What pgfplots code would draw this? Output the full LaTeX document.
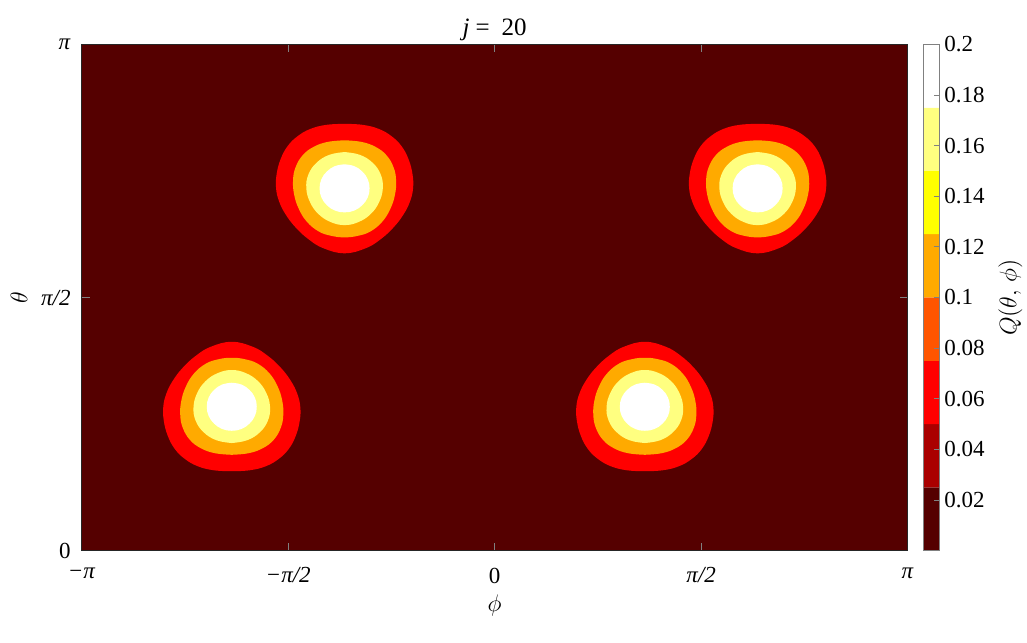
\documentclass[border=0pt]{standalone}
\usepackage{fontspec}
\setmainfont{Liberation Serif}
\usepackage{pgfplots}
\pgfplotsset{compat=1.18}
\definecolor{hA}{RGB}{85,0,0}
\definecolor{hB}{RGB}{170,0,0}
\definecolor{hC}{RGB}{255,0,0}
\definecolor{hD}{RGB}{255,85,0}
\definecolor{hE}{RGB}{255,170,0}
\definecolor{hF}{RGB}{255,255,0}
\definecolor{hG}{RGB}{255,255,128}
\definecolor{hH}{RGB}{255,255,255}
\definecolor{axgray}{RGB}{38,38,38}
\begin{document}
\begin{tikzpicture}
\useasboundingbox (-40.85pt,-45.65pt) rectangle (472.65pt,275.35pt);
\begin{axis}[
  at={(0pt,0pt)}, anchor=south west,
  scale only axis, width=413pt, height=253.2pt,
  xmin=-3.1416, xmax=3.1416, ymin=0, ymax=3.1416,
  axis background/.style={fill=hA},
  axis on top,
  xtick={-3.1416,-1.5708,0,1.5708,3.1416},
  xticklabels={\textit{−π},\textit{−π/2},0,\textit{π/2},\textit{π}},
  ytick={0,1.5708,3.1416},
  yticklabels={0,\textit{π/2},\textit{π}},
  tick align=inside,
  major tick length=4pt,
  tick style={gray, line width=0.4pt},
  axis line style={axgray, line width=0.5pt},
  xlabel={$\phi$}, ylabel={$\theta$},
  title={\textit{j}\hspace{3pt}=\hspace{6pt}20},
  ticklabel style={font=\fontsize{11.5}{13}\selectfont},
  xticklabel style={yshift=-5pt},
  yticklabel style={xshift=-2pt},
  label style={font=\fontsize{12.5}{14}\selectfont},
  xlabel style={yshift=1pt},
  title style={font=\fontsize{12.5}{14}\selectfont, yshift=-8pt},
]
% ---- red (outer) contours
\addplot[fill=hC, draw=none, smooth, tension=0.7] coordinates {
(2.000,2.648)(2.137,2.642)(2.259,2.617)(2.358,2.571)(2.434,2.509)(2.487,2.428)(2.517,2.335)(2.521,2.248)(2.498,2.167)(2.449,2.087)(2.373,2.006)(2.274,1.932)(2.160,1.876)(2.000,1.845)(1.840,1.876)(1.726,1.932)(1.627,2.006)(1.551,2.087)(1.502,2.167)(1.479,2.248)(1.483,2.335)(1.513,2.428)(1.566,2.509)(1.642,2.571)(1.741,2.617)(1.863,2.642)(2.000,2.648)};
\addplot[fill=hC, draw=none, smooth, tension=0.7] coordinates {
(-1.142,2.648)(-1.005,2.642)(-0.883,2.617)(-0.784,2.571)(-0.708,2.509)(-0.655,2.428)(-0.625,2.335)(-0.621,2.248)(-0.644,2.167)(-0.693,2.087)(-0.769,2.006)(-0.868,1.932)(-0.982,1.876)(-1.142,1.845)(-1.302,1.876)(-1.416,1.932)(-1.515,2.006)(-1.591,2.087)(-1.640,2.167)(-1.663,2.248)(-1.659,2.335)(-1.629,2.428)(-1.576,2.509)(-1.500,2.571)(-1.401,2.617)(-1.279,2.642)(-1.142,2.648)};
\addplot[fill=hC, draw=none, smooth, tension=0.7] coordinates {
(1.142,0.493)(1.279,0.499)(1.401,0.524)(1.500,0.570)(1.576,0.632)(1.629,0.713)(1.659,0.806)(1.663,0.893)(1.640,0.974)(1.591,1.054)(1.515,1.135)(1.416,1.209)(1.302,1.265)(1.142,1.296)(0.982,1.265)(0.868,1.209)(0.769,1.135)(0.693,1.054)(0.644,0.974)(0.621,0.893)(0.625,0.806)(0.655,0.713)(0.708,0.632)(0.784,0.570)(0.883,0.524)(1.005,0.499)(1.142,0.493)};
\addplot[fill=hC, draw=none, smooth, tension=0.7] coordinates {
(-2.000,0.493)(-1.863,0.499)(-1.741,0.524)(-1.642,0.570)(-1.566,0.632)(-1.513,0.713)(-1.483,0.806)(-1.479,0.893)(-1.502,0.974)(-1.551,1.054)(-1.627,1.135)(-1.726,1.209)(-1.840,1.265)(-2.000,1.296)(-2.160,1.265)(-2.274,1.209)(-2.373,1.135)(-2.449,1.054)(-2.498,0.974)(-2.521,0.893)(-2.517,0.806)(-2.487,0.713)(-2.434,0.632)(-2.358,0.570)(-2.259,0.524)(-2.137,0.499)(-2.000,0.493)};
% ---- orange contours
\addplot[fill=hE, draw=none, smooth, tension=0.7] coordinates {
(2.000,2.546)(2.129,2.536)(2.236,2.505)(2.319,2.453)(2.373,2.378)(2.392,2.298)(2.384,2.211)(2.350,2.124)(2.289,2.043)(2.198,1.981)(2.099,1.953)(2.000,1.944)(1.901,1.953)(1.802,1.981)(1.711,2.043)(1.650,2.124)(1.616,2.211)(1.608,2.298)(1.627,2.378)(1.681,2.453)(1.764,2.505)(1.871,2.536)(2.000,2.546)};
\addplot[fill=hE, draw=none, smooth, tension=0.7] coordinates {
(-1.142,2.546)(-1.013,2.536)(-0.906,2.505)(-0.823,2.453)(-0.769,2.378)(-0.750,2.298)(-0.758,2.211)(-0.792,2.124)(-0.853,2.043)(-0.944,1.981)(-1.043,1.953)(-1.142,1.944)(-1.241,1.953)(-1.340,1.981)(-1.431,2.043)(-1.492,2.124)(-1.526,2.211)(-1.534,2.298)(-1.515,2.378)(-1.461,2.453)(-1.378,2.505)(-1.271,2.536)(-1.142,2.546)};
\addplot[fill=hE, draw=none, smooth, tension=0.7] coordinates {
(1.142,0.595)(1.271,0.605)(1.378,0.636)(1.461,0.688)(1.515,0.763)(1.534,0.843)(1.526,0.930)(1.492,1.017)(1.431,1.098)(1.340,1.160)(1.241,1.188)(1.142,1.197)(1.043,1.188)(0.944,1.160)(0.853,1.098)(0.792,1.017)(0.758,0.930)(0.750,0.843)(0.769,0.763)(0.823,0.688)(0.906,0.636)(1.013,0.605)(1.142,0.595)};
\addplot[fill=hE, draw=none, smooth, tension=0.7] coordinates {
(-2.000,0.595)(-1.871,0.605)(-1.764,0.636)(-1.681,0.688)(-1.627,0.763)(-1.608,0.843)(-1.616,0.930)(-1.650,1.017)(-1.711,1.098)(-1.802,1.160)(-1.901,1.188)(-2.000,1.197)(-2.099,1.188)(-2.198,1.160)(-2.289,1.098)(-2.350,1.017)(-2.384,0.930)(-2.392,0.843)(-2.373,0.763)(-2.319,0.688)(-2.236,0.636)(-2.129,0.605)(-2.000,0.595)};
% ---- light yellow contours
\addplot[fill=hG, draw=none, smooth, tension=0.7] coordinates {
(2.000,2.473)(2.116,2.456)(2.213,2.407)(2.275,2.334)(2.291,2.248)(2.262,2.161)(2.198,2.088)(2.106,2.039)(2.000,2.020)(1.894,2.039)(1.802,2.088)(1.738,2.161)(1.709,2.248)(1.725,2.334)(1.787,2.407)(1.884,2.456)(2.000,2.473)};
\addplot[fill=hG, draw=none, smooth, tension=0.7] coordinates {
(-1.142,2.473)(-1.026,2.456)(-0.929,2.407)(-0.867,2.334)(-0.851,2.248)(-0.880,2.161)(-0.944,2.088)(-1.036,2.039)(-1.142,2.020)(-1.248,2.039)(-1.340,2.088)(-1.404,2.161)(-1.433,2.248)(-1.417,2.334)(-1.355,2.407)(-1.258,2.456)(-1.142,2.473)};
\addplot[fill=hG, draw=none, smooth, tension=0.7] coordinates {
(1.142,0.668)(1.258,0.685)(1.355,0.734)(1.417,0.807)(1.433,0.893)(1.404,0.980)(1.340,1.053)(1.248,1.102)(1.142,1.121)(1.036,1.102)(0.944,1.053)(0.880,0.980)(0.851,0.893)(0.867,0.807)(0.929,0.734)(1.026,0.685)(1.142,0.668)};
\addplot[fill=hG, draw=none, smooth, tension=0.7] coordinates {
(-2.000,0.668)(-1.884,0.685)(-1.787,0.734)(-1.725,0.807)(-1.709,0.893)(-1.738,0.980)(-1.802,1.053)(-1.894,1.102)(-2.000,1.121)(-2.106,1.102)(-2.198,1.053)(-2.262,0.980)(-2.291,0.893)(-2.275,0.807)(-2.213,0.734)(-2.116,0.685)(-2.000,0.668)};
% ---- white cores
\addplot[fill=hH, draw=none, smooth, tension=0.7] coordinates {
(2.000,2.397)(2.073,2.386)(2.134,2.353)(2.176,2.305)(2.190,2.248)(2.176,2.191)(2.134,2.143)(2.073,2.110)(2.000,2.099)(1.927,2.110)(1.866,2.143)(1.824,2.191)(1.810,2.248)(1.824,2.305)(1.866,2.353)(1.927,2.386)(2.000,2.397)};
\addplot[fill=hH, draw=none, smooth, tension=0.7] coordinates {
(-1.142,2.397)(-1.069,2.386)(-1.008,2.353)(-0.966,2.305)(-0.952,2.248)(-0.966,2.191)(-1.008,2.143)(-1.069,2.110)(-1.142,2.099)(-1.215,2.110)(-1.276,2.143)(-1.318,2.191)(-1.332,2.248)(-1.318,2.305)(-1.276,2.353)(-1.215,2.386)(-1.142,2.397)};
\addplot[fill=hH, draw=none, smooth, tension=0.7] coordinates {
(1.142,1.042)(1.215,1.031)(1.276,0.998)(1.318,0.950)(1.332,0.893)(1.318,0.836)(1.276,0.788)(1.215,0.755)(1.142,0.744)(1.069,0.755)(1.008,0.788)(0.966,0.836)(0.952,0.893)(0.966,0.950)(1.008,0.998)(1.069,1.031)(1.142,1.042)};
\addplot[fill=hH, draw=none, smooth, tension=0.7] coordinates {
(-2.000,1.042)(-1.927,1.031)(-1.866,0.998)(-1.824,0.950)(-1.810,0.893)(-1.824,0.836)(-1.866,0.788)(-1.927,0.755)(-2.000,0.744)(-2.073,0.755)(-2.134,0.788)(-2.176,0.836)(-2.190,0.893)(-2.176,0.950)(-2.134,0.998)(-2.073,1.031)(-2.000,1.042)};
\end{axis}
% ---- colorbar
\begin{axis}[
  at={(420.8pt,0pt)}, anchor=south west,
  scale only axis, width=8pt, height=253.2pt,
  xmin=0, xmax=1, ymin=0, ymax=0.2,
  axis on top,
  xtick=\empty,
  ytick={0.02,0.04,0.06,0.08,0.1,0.12,0.14,0.16,0.18,0.2},
  ytick pos=right, yticklabel pos=right,
  tick align=inside, major tick length=2.5pt,
  tick style={gray, line width=0.4pt},
  axis line style={gray, line width=0.5pt},
  yticklabel style={/pgf/number format/assume math mode=true, /pgf/number format/fixed, /pgf/number format/precision=2, font=\fontsize{11.5}{13}\selectfont, xshift=-1pt},
  ylabel={$Q(\theta,\,\phi)$},
  ylabel style={font=\fontsize{12.5}{14}\selectfont},
]
\addplot[fill=hA, draw=none] coordinates {(0,0)(1,0)(1,0.025)(0,0.025)(0,0)};
\addplot[fill=hB, draw=none] coordinates {(0,0.025)(1,0.025)(1,0.05)(0,0.05)(0,0.025)};
\addplot[fill=hC, draw=none] coordinates {(0,0.05)(1,0.05)(1,0.075)(0,0.075)(0,0.05)};
\addplot[fill=hD, draw=none] coordinates {(0,0.075)(1,0.075)(1,0.1)(0,0.1)(0,0.075)};
\addplot[fill=hE, draw=none] coordinates {(0,0.1)(1,0.1)(1,0.125)(0,0.125)(0,0.1)};
\addplot[fill=hF, draw=none] coordinates {(0,0.125)(1,0.125)(1,0.15)(0,0.15)(0,0.125)};
\addplot[fill=hG, draw=none] coordinates {(0,0.15)(1,0.15)(1,0.175)(0,0.175)(0,0.15)};
\addplot[fill=hH, draw=none] coordinates {(0,0.175)(1,0.175)(1,0.2)(0,0.2)(0,0.175)};
\end{axis}
\end{tikzpicture}
\end{document}
